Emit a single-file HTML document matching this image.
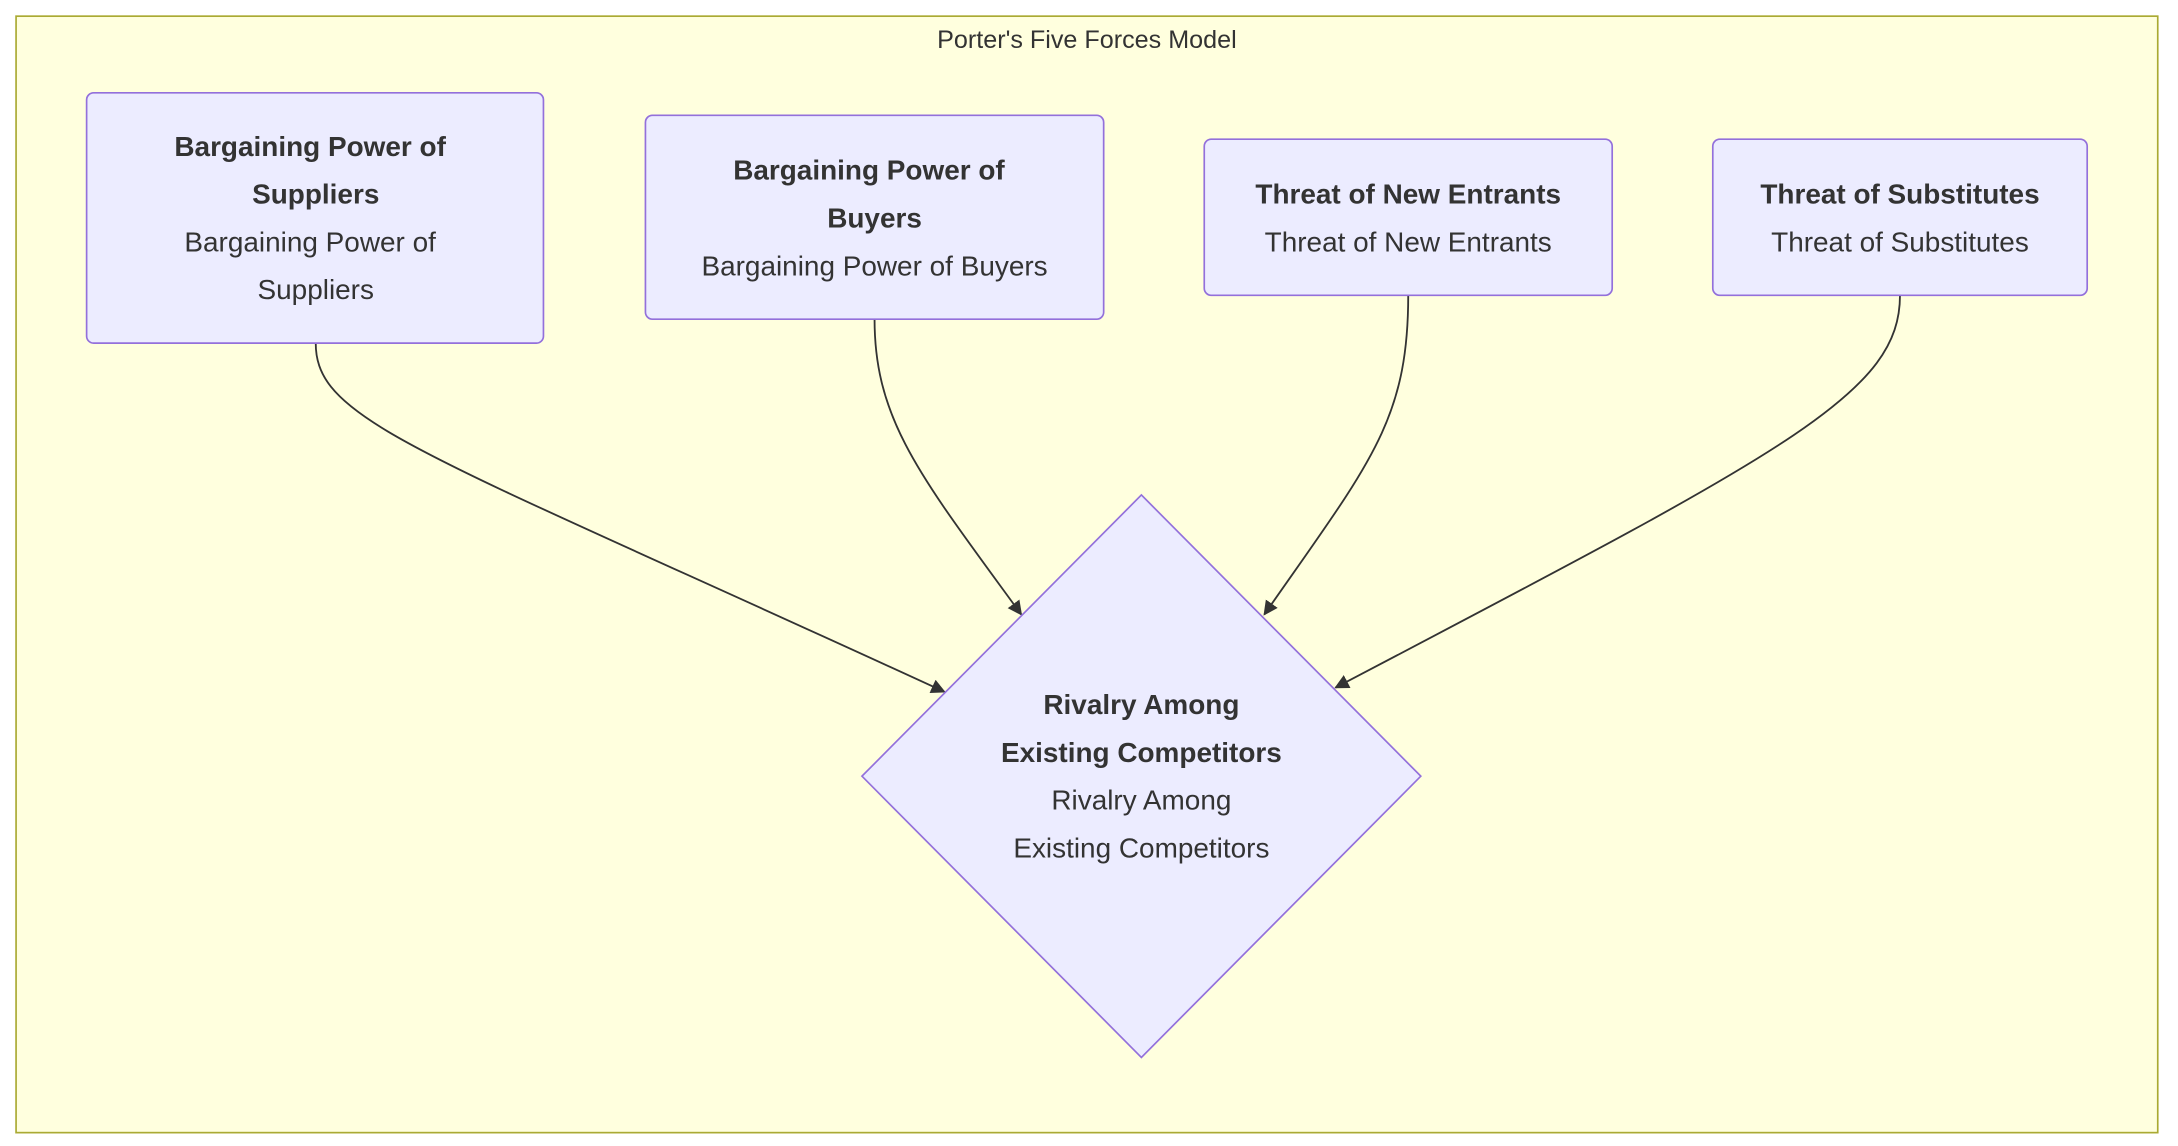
<!DOCTYPE html>
<html><head><meta charset="utf-8"><style>
html,body{margin:0;padding:0;background:#fff;}
svg{display:block;}
text{font-family:"Liberation Sans",sans-serif;fill:#333;}
.b{font-weight:bold;font-size:20px;}
.r{font-size:20px;}
</style></head><body>
<svg width="2178" height="1146" viewBox="0 0 1559 815" preserveAspectRatio="none" xmlns="http://www.w3.org/2000/svg">
<defs><marker id="a" viewBox="0 0 10 10" refX="9" refY="5" markerWidth="8" markerHeight="8" orient="auto"><path d="M0,0L10,5L0,10z" fill="#333"/></marker></defs>
<rect x="0" y="0" width="1559" height="815" fill="#fff"/>
<rect x="11.5" y="11.5" width="1533" height="794" fill="#ffffde" stroke="#aaaa33" stroke-width="1.2"/>
<text x="778" y="34" text-anchor="middle" style="font-size:18px">Porter's Five Forces Model</text>
<g fill="none" stroke="#333" stroke-width="1.3">
<path d="M226,244 C226,300 300,320 676,492" marker-end="url(#a)"/>
<path d="M626,227 C626,300 660,340 731,437" marker-end="url(#a)"/>
<path d="M1008,210 C1008,300 980,330 905,437" marker-end="url(#a)"/>
<path d="M1360,210 C1360,280 1280,320 956,489" marker-end="url(#a)"/>
</g>
<g fill="#ececff" stroke="#9370db" stroke-width="1.2">
<rect x="62" y="66" width="327" height="178" rx="5"/>
<rect x="462" y="82" width="328" height="145" rx="5"/>
<rect x="862" y="99" width="292" height="111" rx="5"/>
<rect x="1226" y="99" width="268" height="111" rx="5"/>
<polygon points="817,352 1017,552 817,752 617,552"/>
</g>
<g text-anchor="middle" dominant-baseline="central">
<text class="b" x="222" y="104">Bargaining Power of</text>
<text class="b" x="226" y="138">Suppliers</text>
<text class="r" x="222" y="172">Bargaining Power of</text>
<text class="r" x="226" y="206">Suppliers</text>
<text class="b" x="622" y="121">Bargaining Power of</text>
<text class="b" x="626" y="155">Buyers</text>
<text class="r" x="626" y="189">Bargaining Power of Buyers</text>
<text class="b" x="1008" y="138">Threat of New Entrants</text>
<text class="r" x="1008" y="172">Threat of New Entrants</text>
<text class="b" x="1360" y="138">Threat of Substitutes</text>
<text class="r" x="1360" y="172">Threat of Substitutes</text>
<text class="b" x="817" y="501">Rivalry Among</text>
<text class="b" x="817" y="535">Existing Competitors</text>
<text class="r" x="817" y="569">Rivalry Among</text>
<text class="r" x="817" y="603">Existing Competitors</text>
</g>
</svg>
</body></html>
